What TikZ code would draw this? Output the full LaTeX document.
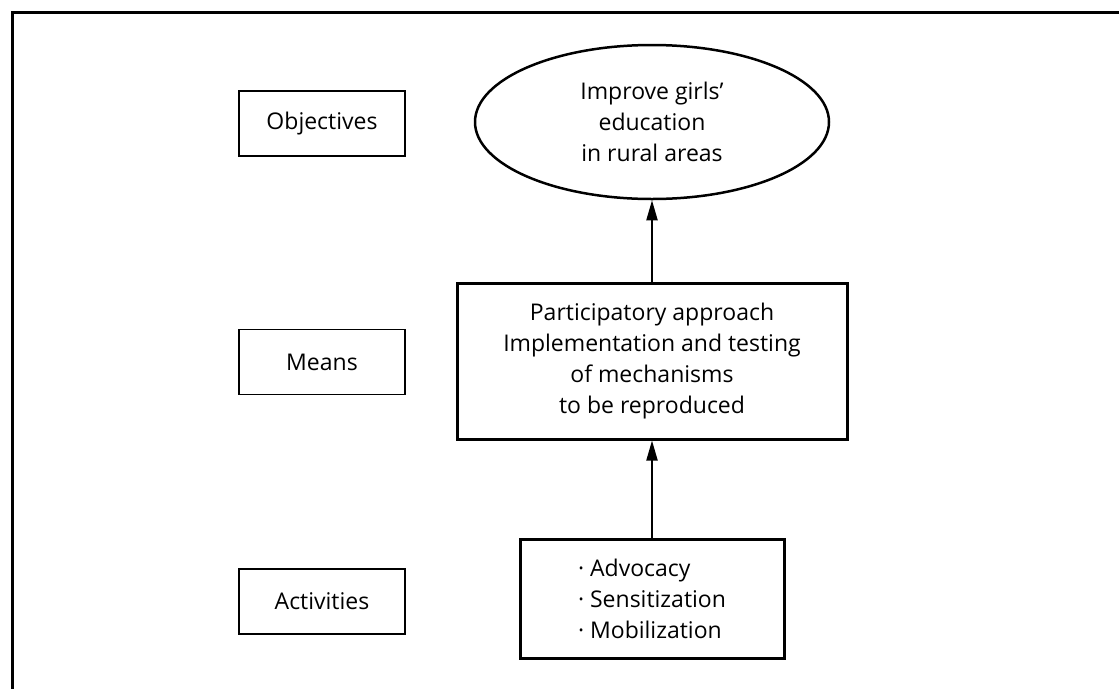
\documentclass[tikz,border=0pt]{standalone}
\usepackage{fontspec}
\setmainfont{Open Sans}
\usetikzlibrary{shapes.geometric,arrows.meta}
\begin{document}
\begin{tikzpicture}[x=1pt,y=-1pt,
  txt/.style={font=\fontsize{23}{31}\selectfont},
  labelbox/.style={draw, line width=1.4pt, minimum width=166pt, minimum height=65pt, inner sep=0pt, txt},
  mainbox/.style={draw, line width=3pt, inner sep=0pt, txt},
  conn/.style={line width=2pt, -{Triangle[length=20pt,width=11pt]}}]
\useasboundingbox (0,0) rectangle (1119,689);
\draw[line width=3pt] (1119,12) -- (12,12) -- (12,689);
\node[labelbox] (lobj) at (322,123.5) {Objectives};
\node[labelbox] (lmeans) at (322,362) {Means};
\node[labelbox] (lact) at (322,601.5) {Activities};
\node[ellipse, draw, line width=2.5pt, minimum width=354pt, minimum height=154pt, inner sep=0pt, align=center, txt] (obj) at (652,122) {Improve girls'\\education\\in rural areas};
\node[mainbox, minimum width=390pt, minimum height=156pt, align=center] (means) at (652,361) {Participatory approach\\Implementation and testing\\of mechanisms\\to be reproduced};
\node[mainbox, minimum width=264pt, minimum height=119pt, align=left] (act) at (652,598.5) {· Advocacy\\· Sensitization\\· Mobilization};
\draw[conn] (means.north) -- (obj.south);
\draw[conn] (act.north) -- (means.south);
\end{tikzpicture}
\end{document}
